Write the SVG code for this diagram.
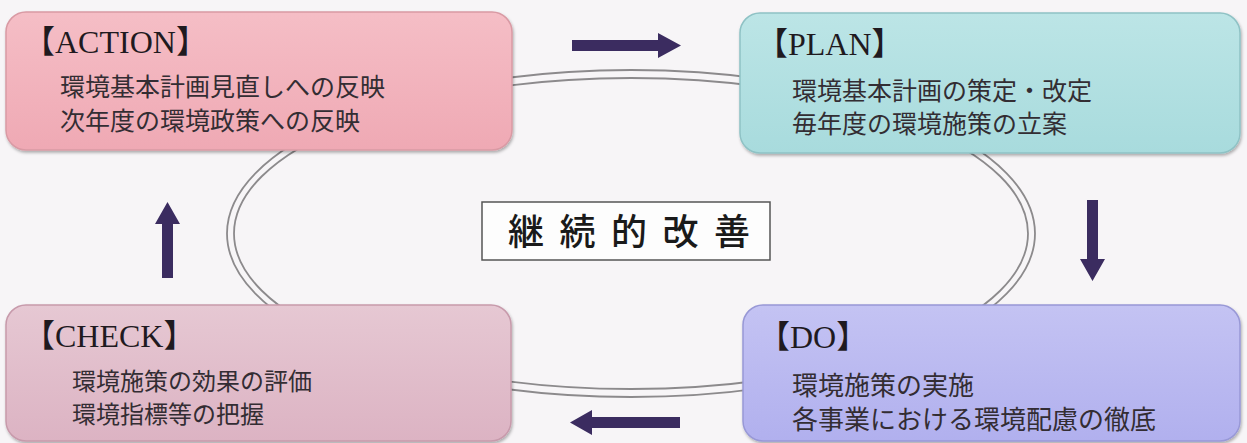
<svg xmlns="http://www.w3.org/2000/svg" width="1247" height="443" viewBox="0 0 1247 443">
<defs>
<style>
.hd{font-family:"Liberation Serif","Noto Sans CJK JP",serif;font-size:32px;fill:#1f1a1f}
.bd{font-family:"Noto Sans CJK JP","Noto Sans",sans-serif;font-size:25px;fill:#332d33}
.ring{fill:none;stroke:#8c8a8c;stroke-width:1.8}
.arr{fill:#3b2c60}
.box{stroke-width:1.5;filter:url(#sh)}
</style>
<filter id="sh" x="-5%" y="-10%" width="110%" height="125%">
<feDropShadow dx="1" dy="2" stdDeviation="1.5" flood-color="#000" flood-opacity="0.3"/>
</filter>
<linearGradient id="gA" x1="0" y1="0" x2="0" y2="1"><stop offset="0" stop-color="#f5bec6"/><stop offset="1" stop-color="#efa9b4"/></linearGradient>
<linearGradient id="gP" x1="0" y1="0" x2="0" y2="1"><stop offset="0" stop-color="#bce5e6"/><stop offset="1" stop-color="#a8dbdd"/></linearGradient>
<linearGradient id="gC" x1="0" y1="0" x2="0" y2="1"><stop offset="0" stop-color="#e6c8d3"/><stop offset="1" stop-color="#dcb3c3"/></linearGradient>
<linearGradient id="gD" x1="0" y1="0" x2="0" y2="1"><stop offset="0" stop-color="#c4c3f3"/><stop offset="1" stop-color="#b1b0ee"/></linearGradient>
</defs>
<rect x="0" y="0" width="1247" height="443" fill="#f7f5f7"/>
<g id="connectors">
<ellipse class="ring" cx="631" cy="233.5" rx="404" ry="163.5"/>
<ellipse class="ring" cx="631" cy="233.5" rx="397" ry="155.5"/>
<path class="arr" d="M572,40 H658 V33 L681,45.5 L658,58 V51 H572 Z"/>
<path class="arr" d="M1087,200 H1098 V259 H1105 L1092.5,281 L1080,259 H1087 Z"/>
<path class="arr" d="M680,417 V428 H592 V435 L570,422.5 L592,410 V417 Z"/>
<path class="arr" d="M162,278 V224 H155 L167.5,202 L180,224 H173 V278 Z"/>
</g>
<g id="action">
<rect class="box" x="6" y="12" width="506" height="138" rx="20" fill="url(#gA)" stroke="#d99aa4"/>
<text class="hd" x="23" y="53">【ACTION】</text>
<text class="bd" x="60" y="95.5">環境基本計画見直しへの反映</text>
<text class="bd" x="60" y="129.5">次年度の環境政策への反映</text>
</g>
<g id="plan">
<rect class="box" x="740" y="13" width="500" height="140" rx="20" fill="url(#gP)" stroke="#8fc2c5"/>
<text class="hd" x="756" y="55">【PLAN】</text>
<text class="bd" x="792" y="99.5">環境基本計画の策定・改定</text>
<text class="bd" x="792" y="133">毎年度の環境施策の立案</text>
</g>
<g id="check">
<rect class="box" x="6" y="305" width="505" height="136" rx="20" fill="url(#gC)" stroke="#c79aab"/>
<text class="hd" x="23" y="347">【CHECK】</text>
<text class="bd" x="72" y="389.5" style="font-size:24px">環境施策の効果の評価</text>
<text class="bd" x="72" y="423" style="font-size:24px">環境指標等の把握</text>
</g>
<g id="do">
<rect class="box" x="743" y="305" width="497" height="136" rx="20" fill="url(#gD)" stroke="#9898d6"/>
<text class="hd" x="758" y="348">【DO】</text>
<text class="bd" x="792" y="395" style="font-size:26px">環境施策の実施</text>
<text class="bd" x="792" y="429" style="font-size:26px">各事業における環境配慮の徹底</text>
</g>
<g id="center">
<rect x="482" y="202" width="288" height="58" fill="#fdfdfd" stroke="#555" stroke-width="1.5"/>
<text x="508" y="245" style="font-family:'Noto Sans CJK JP',sans-serif;font-size:36px;font-weight:500;letter-spacing:15.5px;fill:#1a1a1a">継続的改善</text>
</g>
</svg>
